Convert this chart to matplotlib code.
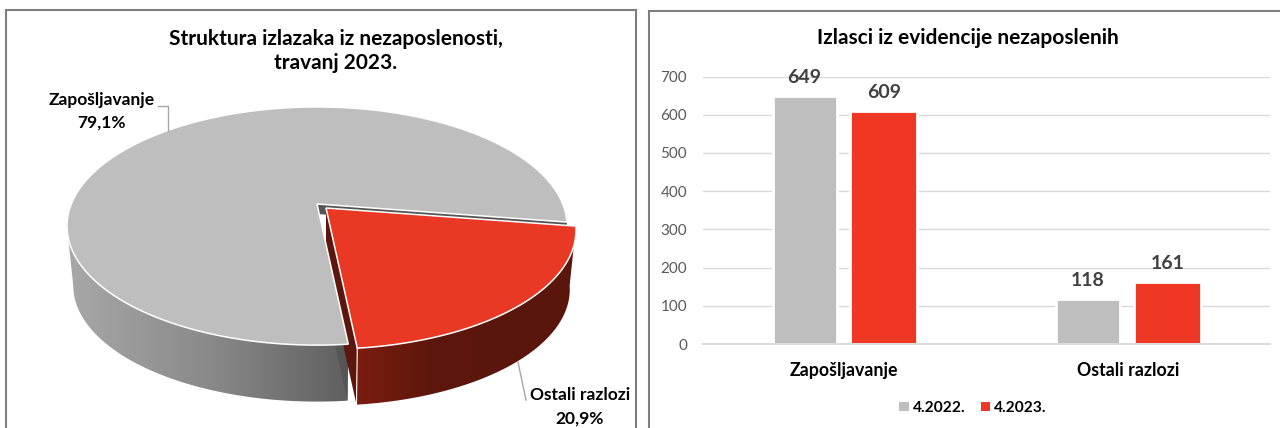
import numpy as np
import matplotlib
matplotlib.use("Agg")
import matplotlib.pyplot as plt
from matplotlib.patches import Polygon, Patch
from matplotlib.lines import Line2D
from matplotlib.colors import LinearSegmentedColormap

# ---- data ----
pie_labels = ["Zapošljavanje", "Ostali razlozi"]
pie_shares = [79.1, 20.9]
pie_texts = ["79,1%", "20,9%"]
pie_title = "Struktura izlazaka iz nezaposlenosti,\ntravanj 2023."

bar_title = "Izlasci iz evidencije nezaposlenih"
bar_categories = ["Zapošljavanje", "Ostali razlozi"]
series_names = ["4.2022.", "4.2023."]
values_2022 = [649, 118]
values_2023 = [609, 161]
y_ticks = [0, 100, 200, 300, 400, 500, 600, 700]

GRAY = "#BEBEBE"
RED = "#E93823"
BAR_RED = "#EE3824"
FRAME = "#7F7F7F"
W, H = 1280, 428

plt.rcParams["font.family"] = ["Lato", "DejaVu Sans"]
fig = plt.figure(figsize=(W / 100, H / 100), dpi=100)
fig.patch.set_facecolor("white")

# full-figure pixel canvas
cv = fig.add_axes([0, 0, 1, 1])
cv.axis("off")

# panel frames
for xs, ys in [([6, 6, 636, 636], [H, 10, 10, H]), ([649, 649, W], [H, 11, 11])]:
    cv.add_line(Line2D(xs, ys, color=FRAME, lw=1.5, solid_joinstyle="miter"))

# ---- perspective 3D pie ----
X0, Y0, G, F, K = 317.0, 204.0, 245.7, 115.0, 0.185
SCALE, DEPTH = 0.975, 60.0
START = -8.8  # degrees; Ostali razlozi runs clockwise from here
LEFT_EXTREME = -180 + np.degrees(np.arcsin(K))


def top(deg, r=1.0, dx=0.0, dy=0.0):
    t = np.radians(np.atleast_1d(deg))
    x, y = r * np.cos(t), r * np.sin(t)
    d = 1 + K * y
    return np.column_stack([X0 + dx + G * x / d, Y0 + dy - F * y / d])


def low(deg, r=1.0, dx=0.0, dy=0.0):
    p = top(deg, r)
    return np.column_stack([X0 + dx + SCALE * (p[:, 0] - X0), Y0 + dy + DEPTH + SCALE * (p[:, 1] - Y0)])


def wall(a0, a1, cmap, dx=0.0, dy=0.0, xr=(70, 350)):
    angs = np.linspace(a0, a1, 240)
    poly = np.vstack([top(angs, dx=dx, dy=dy), low(angs, dx=dx, dy=dy)[::-1]])
    grad = np.linspace(0, 1, 256).reshape(1, -1)
    im = cv.imshow(grad, cmap=cmap, vmin=0, vmax=1, extent=(xr[0] - 3, xr[1] + 3, 430, 0), aspect="auto", interpolation="bilinear")
    patch = Polygon(poly, closed=True, transform=cv.transData, fc="none", ec="none")
    cv.add_patch(patch)
    im.set_clip_path(patch)


sweep = pie_shares[1] / 100 * 360
a_red0, a_red1 = START, START - sweep          # red wedge, clockwise
a_gray0, a_gray1 = a_red1, START - 360         # gray wedge, clockwise
EX, EY = 9.0, 4.0  # explosion offset

gray_map = LinearSegmentedColormap.from_list("g", ["#A8A8A8", "#8A8A8A", "#5F5F5F"])
red_map = LinearSegmentedColormap.from_list("r", ["#7C1C10", "#5E170C", "#5A160C", "#5A160C"])

# gray cut faces towards the notch (only a shallow part of the back one can be seen)
ctr_top = top(0, 0)[0]
ctr_low = low(0, 0)[0]
cv.add_patch(Polygon([ctr_top, top(a_gray0)[0], low(a_gray0)[0], ctr_low], fc="#555555", ec="none"))
back_rim = top(a_gray1)[0]
cv.add_patch(Polygon([ctr_top, back_rim, back_rim + [0, 10], ctr_top + [0, 10]], fc="#555555", ec="none"))

# red inner face (left side of the wedge)
cv.add_patch(Polygon([top(0, 0, EX, EY)[0], top(a_red1, dx=EX, dy=EY)[0],
                      low(a_red1, dx=EX, dy=EY)[0], low(0, 0, EX, EY)[0]], fc="#5C160D", ec="none"))

# gray outer wall + top
wall(a_gray0, LEFT_EXTREME, gray_map, xr=(70, 347))
angs = np.linspace(a_gray0, a_gray1, 361)
cv.add_patch(Polygon(np.vstack([ctr_top, top(angs)]), closed=True, fc=GRAY, ec="white", lw=1.1, joinstyle="miter"))

# red outer wall + top
wall(a_red1, a_red0, red_map, EX, EY, xr=(358, 580))
e = top(a_red1, dx=EX, dy=EY)[0]
eb = low(a_red1, dx=EX, dy=EY)[0]
cv.add_line(Line2D([e[0], eb[0]], [e[1], eb[1]], color="white", lw=0.8))
angs = np.linspace(a_red0, a_red1, 121)
cv.add_patch(Polygon(np.vstack([top(0, 0, EX, EY), top(angs, dx=EX, dy=EY)]), closed=True, fc=RED, ec="white", lw=1.1, joinstyle="miter"))

# leader lines
LEAD = "#A6A6A6"
cv.add_line(Line2D([158, 168, 168], [106, 106, 131], color=LEAD, lw=1))
cv.add_line(Line2D([518, 526], [362, 400], color=LEAD, lw=1))

cv.set_xlim(0, W)
cv.set_ylim(H, 0)

# pie texts
FS_LAB = 12.5
cv.text(102, 100, pie_labels[0], ha="center", va="center", fontweight="bold", fontsize=FS_LAB, color="black")
cv.text(102, 123, pie_texts[0], ha="center", va="center", fontweight="bold", fontsize=FS_LAB, color="black")
cv.text(580, 395, pie_labels[1], ha="center", va="center", fontweight="bold", fontsize=FS_LAB, color="black")
cv.text(580, 419, pie_texts[1], ha="center", va="center", fontweight="bold", fontsize=FS_LAB, color="black")
cv.text(336, 51, pie_title, ha="center", va="center", fontweight="bold", fontsize=15, color="black", linespacing=1.25)

# ---- bars ----
ax = fig.add_axes([702.5 / W, (H - 344) / H, 567 / W, 267.4 / H])
ax.set_xlim(-0.5, 1.5)
ax.set_ylim(0, 700)
ax.patch.set_alpha(0)
for s in ax.spines.values():
    s.set_visible(False)
x = np.arange(len(bar_categories))
offset = 0.14
b1 = ax.bar(x - offset, values_2022, 0.226, color=GRAY, edgecolor="white", linewidth=2.0, zorder=3, label=series_names[0])
b2 = ax.bar(x + offset, values_2023, 0.236, color=BAR_RED, edgecolor="white", linewidth=2.0, zorder=3, label=series_names[1])
ax.set_yticks(y_ticks)
ax.set_xticks(x, bar_categories)
ax.tick_params(axis="both", length=0)
ax.tick_params(axis="y", labelsize=11, labelcolor="#595959", pad=11)
ax.tick_params(axis="x", labelsize=12.8, labelcolor="black", pad=13)
for t in ax.get_xticklabels():
    t.set_fontweight("bold")
ax.yaxis.grid(True, color="#D9D9D9", lw=1.0, zorder=1)
ax.set_axisbelow(True)
ax.axhline(0, color="#D9D9D9", lw=1.3, zorder=4, clip_on=False)
for bars, vals in ((b1, values_2022), (b2, values_2023)):
    for r, v in zip(bars, vals):
        ax.annotate(str(v), (r.get_x() + r.get_width() / 2, v), xytext=(0, 7.5), textcoords="offset points",
                    ha="center", va="bottom", fontweight="bold", fontsize=14, color="#404040")

cv.text(968, 38, bar_title, ha="center", va="center", fontweight="bold", fontsize=15, color="black")

handles = [Patch(fc=GRAY, ec="none"), Patch(fc=BAR_RED, ec="none")]
leg = ax.legend(handles, series_names, loc="center", bbox_to_anchor=((973 - 702.5) / 567, (344 - 408) / 267.4),
                ncol=2, frameon=False, fontsize=11.2, handlelength=0.6, handleheight=0.6, handletextpad=0.25,
                columnspacing=1.0, borderpad=0, borderaxespad=0)
for t in leg.get_texts():
    t.set_fontweight("bold")
    t.set_color("black")

fig.savefig("out.png", dpi=100)
